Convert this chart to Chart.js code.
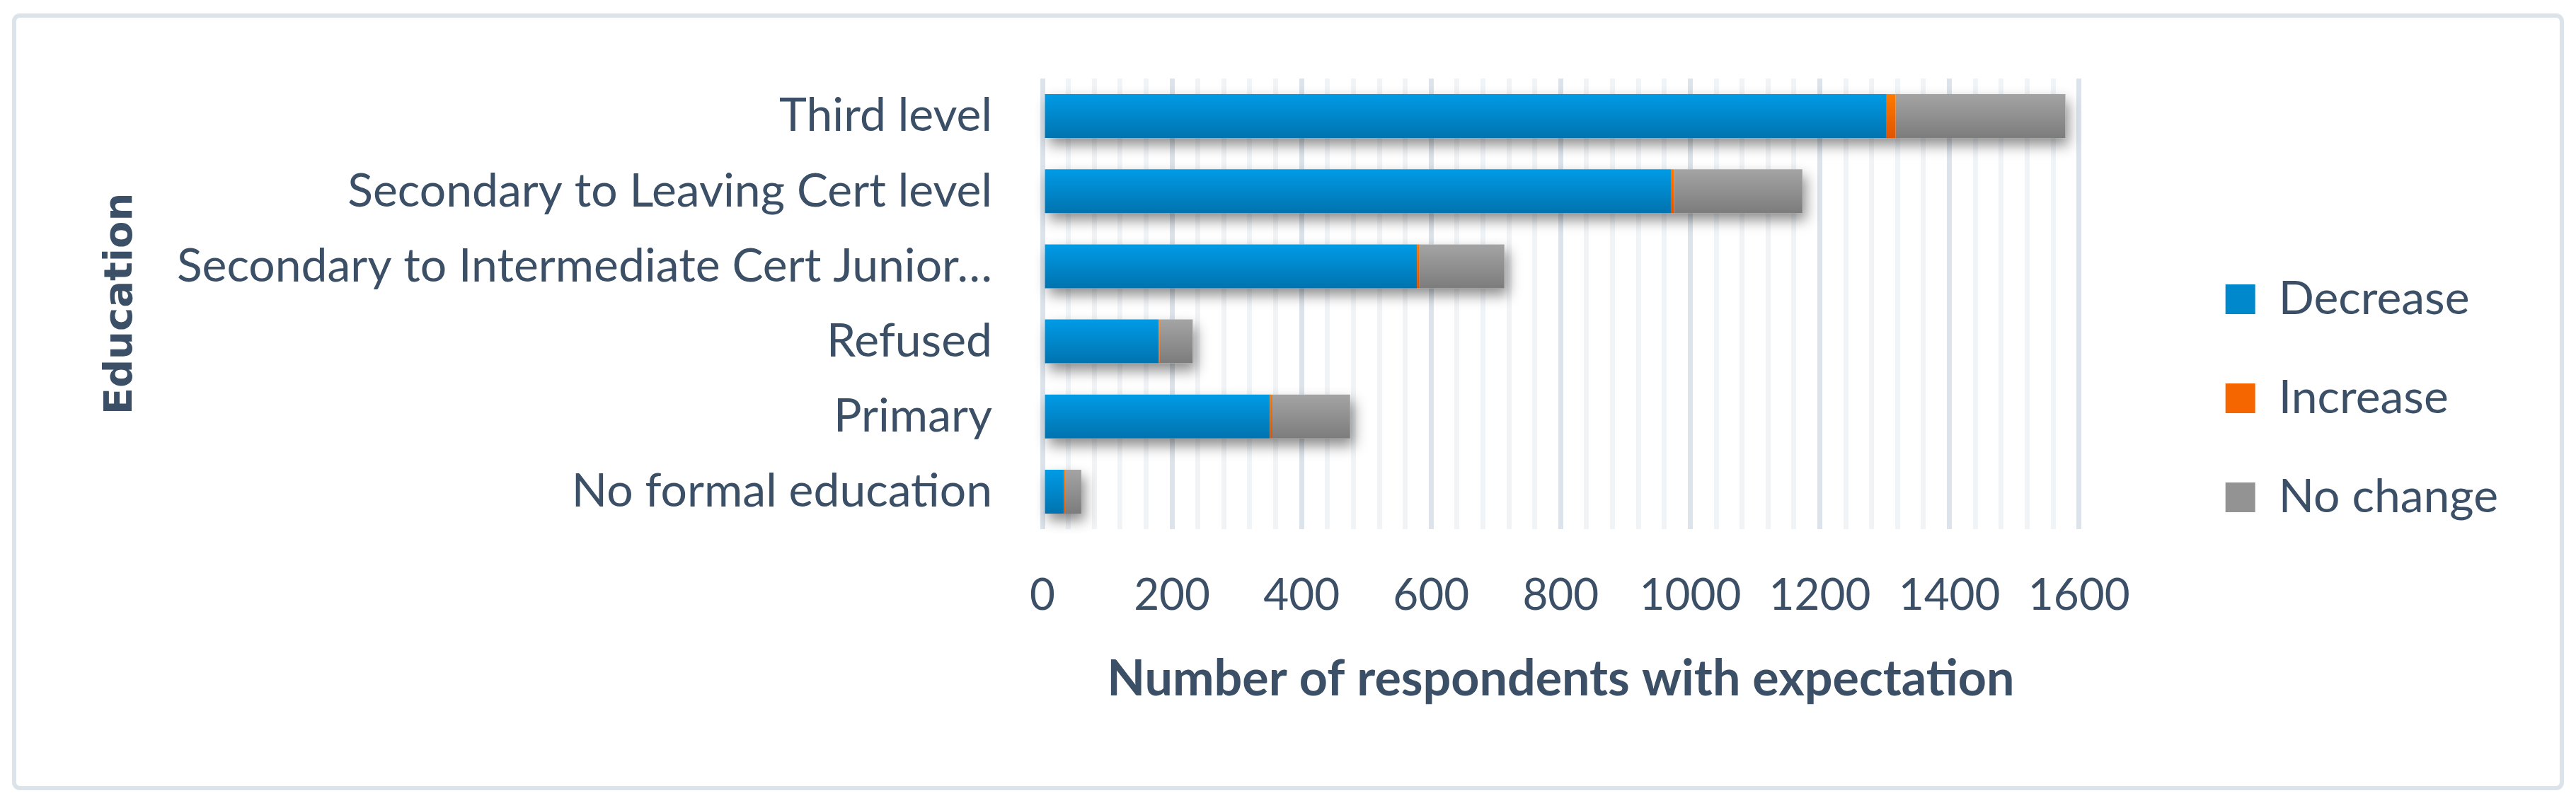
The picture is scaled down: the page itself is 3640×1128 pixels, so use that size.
<!DOCTYPE html>
<html>
<head>
<meta charset="utf-8">
<title>Expectation by education</title>
<script src="https://cdn.jsdelivr.net/npm/chart.js@4"></script>
<style>
  html, body { margin: 0; padding: 0; background: #fff; overflow: hidden; }
  canvas { display: block; }
</style>
</head>
<body>
<canvas id="chart" width="3640" height="1128"></canvas>
<script>
var categories = ['Third level', 'Secondary to Leaving Cert level', 'Secondary to Intermediate Cert Junior\u2026', 'Refused', 'Primary', 'No formal education'];
var decrease = [1303, 970, 578, 179, 351, 33];
var increase = [14, 5, 4, 2, 4, 2];
var noChange = [262, 198, 131, 51, 120, 25];
var seriesNames = ['Decrease', 'Increase', 'No change'];

var textColor = '#3B4F66';
var BAR_PCT = 0.584;

// top -> bottom gradient for each bar, worked out from the category scale
var vGrad = function(top, bottom) {
	return function(c) {
		var chart = c.chart, area = chart.chartArea;
		if (!area || c.dataIndex === undefined) return bottom;
		var half = (area.bottom - area.top) / categories.length * BAR_PCT / 2;
		var yc = chart.scales.y.getPixelForValue(c.dataIndex);
		var g = chart.ctx.createLinearGradient(0, yc - half, 0, yc + half);
		g.addColorStop(0, top);
		g.addColorStop(1, bottom);
		return g;
	};
};

var legendColors = ['#0088CC', '#F56600', '#939393'];

var frame = {
	id: 'frame',
	beforeDraw: function(chart) {
		var c = chart.ctx;
		c.save();
		c.fillStyle = '#fff';
		c.fillRect(0, 0, chart.width, chart.height);
		c.strokeStyle = '#DCE3EA';
		c.lineWidth = 6;
		c.beginPath();
		if (c.roundRect) c.roundRect(20, 22, chart.width - 40, chart.height - 36, 8);
		else c.rect(20, 22, chart.width - 40, chart.height - 36);
		c.stroke();
		c.restore();
	}
};

// soft shadow under each whole stacked bar
var barShadow = {
	id: 'barShadow',
	beforeDatasetsDraw: function(chart) {
		var c = chart.ctx;
		var first = chart.getDatasetMeta(0).data;
		var last = chart.getDatasetMeta(2).data;
		c.save();
		c.fillStyle = '#fff';
		c.shadowColor = 'rgba(0,0,0,0.45)';
		c.shadowBlur = 18;
		c.shadowOffsetX = 5;
		c.shadowOffsetY = 10;
		last.forEach(function(bar, i) {
			var start = first[i].base;
			c.fillRect(start, bar.y - bar.height / 2, bar.x - start, bar.height);
		});
		c.restore();
	}
};

Chart.defaults.color = textColor;
Chart.defaults.font.family = 'Lato';

var ctx = document.getElementById('chart').getContext('2d');
var eduChart = new Chart(ctx, {
	type: 'bar',
	data: {
		labels: categories,
		datasets: [{
			label: seriesNames[0],
			data: decrease,
			backgroundColor: vGrad('#009BE6', '#0073AF')
		}, {
			label: seriesNames[1],
			data: increase,
			backgroundColor: vGrad('#FF7A00', '#E05400')
		}, {
			label: seriesNames[2],
			data: noChange,
			backgroundColor: vGrad('#A4A4A4', '#7C7C7C')
		}]
	},
	options: {
		indexAxis: 'y',
		responsive: false,
		animation: false,
		devicePixelRatio: 1,
		categoryPercentage: 1,
		barPercentage: BAR_PCT,
		borderWidth: 0,
		layout: { padding: { left: 138, top: 111, bottom: 113, right: 100 } },
		datasets: { bar: { clip: false } },
		scales: {
			x: {
				stacked: true,
				min: 0,
				max: 1600,
				border: { display: false },
				grid: {
					drawTicks: false,
					lineWidth: 7,
					color: function(c) {
						return c.tick && c.tick.value % 200 === 0 ? '#DCE3EA' : '#F1F4F7';
					}
				},
				ticks: {
					stepSize: 40,
					autoSkip: false,
					maxRotation: 0,
					padding: 57,
					font: { size: 62 },
					callback: function(v) { return v % 200 === 0 ? v : ''; }
				},
				title: {
					display: true,
					text: 'Number of respondents with expectation',
					font: { size: 70, weight: 'bold' },
					padding: { top: 0, bottom: 13 }
				},
				afterFit: function(s) { s.height = 1128 - 113 - 748; }
			},
			y: {
				stacked: true,
				border: { display: false },
				grid: { display: false, drawTicks: false },
				ticks: { autoSkip: false, padding: 71, font: { size: 66 } },
				title: {
					display: true,
					text: 'Education',
					font: { family: 'DejaVu Sans', size: 56, weight: 'bold' },
					padding: 0
				},
				afterFit: function(s) { s.width = 1473 - 138; }
			},
			gap: {
				type: 'linear',
				position: 'right',
				display: true,
				border: { display: false },
				grid: { display: false, drawTicks: false },
				ticks: { display: false },
				afterFit: function(s) { s.width = 133; }
			}
		},
		plugins: {
			tooltip: { enabled: false },
			legend: {
				position: 'right',
				labels: {
					boxWidth: 42,
					boxHeight: 42,
					padding: 74,
					font: { size: 66 },
					generateLabels: function(chart) {
						return chart.data.datasets.map(function(d, i) {
							return { text: d.label, fillStyle: legendColors[i], strokeStyle: legendColors[i], lineWidth: 0, fontColor: textColor, hidden: false, datasetIndex: i };
						});
					}
				}
			}
		}
	},
	plugins: [frame, barShadow]
});
</script>
</body>
</html>
